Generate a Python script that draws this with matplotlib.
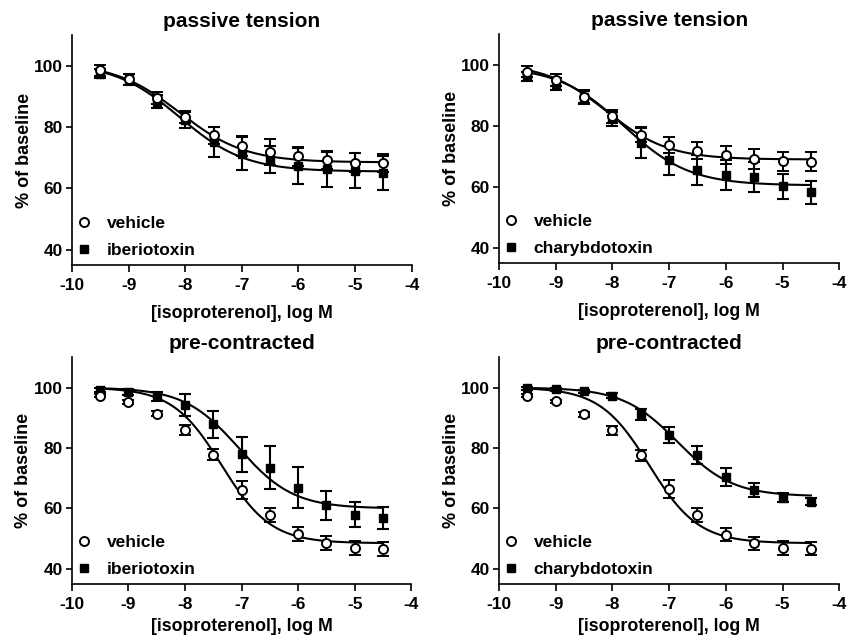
"""
Isoproterenol concentration-response, passive tension vs. pre-contracted,
vehicle vs. iberiotoxin / charybdotoxin (4 panels)
"""
import numpy as np
import matplotlib.pyplot as plt
from matplotlib.lines import Line2D

plt.rcParams.update({
    'font.family': ['Liberation Sans', 'DejaVu Sans'],
    'font.weight': 'bold',
    'font.size': 12,
    'axes.unicode_minus': False,
    'axes.linewidth': 1.2,
    'axes.labelweight': 'bold',
    'axes.titleweight': 'bold',
    'xtick.major.width': 1.2,
    'ytick.major.width': 1.2,
    'xtick.major.size': 5.0,
    'ytick.major.size': 4.5,
    'xtick.major.pad': 4.0,
    'ytick.major.pad': 2.0,
})

log_conc = [-9.5, -9, -8.5, -8, -7.5, -7, -6.5, -6, -5.5, -5, -4.5]

# passive tension, iberiotoxin experiment
pt_veh_a = [98.5, 95.6, 89.5, 83.4, 77.3, 73.8, 71.9, 70.4, 69.3, 68.4, 68.2]
pt_veh_a_sem = [1.8, 1.8, 2.0, 2.0, 2.8, 3.4, 4.2, 3.0, 3.0, 3.1, 3.0]
pt_ibtx = [97.4, 95.6, 88.3, 82.3, 75.1, 71.3, 69.3, 67.3, 66.2, 65.8, 65.0]
pt_ibtx_sem = [1.5, 1.8, 2.2, 2.5, 5.0, 5.3, 4.4, 5.8, 5.6, 5.6, 5.5]

# passive tension, charybdotoxin experiment
pt_veh_b = [97.8, 95.1, 89.6, 83.1, 77.1, 73.8, 71.9, 70.5, 69.1, 68.4, 68.3]
pt_veh_b_sem = [1.9, 2.0, 2.0, 2.0, 2.5, 2.7, 2.7, 3.0, 3.3, 3.2, 3.0]
pt_chtx = [96.2, 93.7, 89.3, 82.2, 74.4, 68.7, 65.6, 63.8, 63.2, 60.2, 58.2]
pt_chtx_sem = [1.5, 2.0, 2.0, 2.2, 4.9, 4.7, 4.9, 4.9, 4.9, 4.2, 3.9]

# pre-contracted, iberiotoxin experiment
pc_veh_a = [97.3, 95.3, 91.4, 85.9, 77.7, 66.2, 57.9, 51.5, 48.6, 46.9, 46.6]
pc_veh_a_sem = [0.6, 0.6, 0.8, 1.6, 1.8, 3.0, 2.4, 2.2, 2.2, 2.2, 2.2]
pc_ibtx = [99.1, 98.4, 97.1, 94.2, 87.8, 77.9, 73.5, 66.9, 61.0, 57.9, 56.8]
pc_ibtx_sem = [0.6, 1.0, 1.5, 3.5, 4.5, 5.8, 7.2, 6.7, 4.8, 4.2, 3.7]

# pre-contracted, charybdotoxin experiment
pc_veh_b = [97.3, 95.4, 91.2, 85.8, 77.6, 66.3, 57.8, 51.3, 48.5, 46.9, 46.7]
pc_veh_b_sem = [0.6, 0.6, 0.8, 1.6, 1.8, 3.0, 2.4, 2.2, 2.2, 2.2, 2.2]
pc_chtx = [99.8, 99.5, 98.7, 97.3, 91.2, 84.3, 77.8, 70.4, 66.1, 63.5, 62.2]
pc_chtx_sem = [0.5, 0.5, 0.6, 0.8, 1.8, 2.6, 3.0, 3.0, 2.2, 1.5, 1.2]

# sigmoidal fits: top, bottom, logEC50, hill slope
pt_veh_a_fit = [101.0, 68.5, -8.1, 0.75]
pt_ibtx_fit = [101.0, 65.5, -8.1, 0.75]
pt_veh_b_fit = [100.5, 69.0, -8.1, 0.8]
pt_chtx_fit = [99.5, 60.5, -7.8, 0.75]
pc_veh_a_fit = [100.0, 48.5, -7.35, 1.0]
pc_ibtx_fit = [100.0, 60.0, -7.05, 0.9]
pc_veh_b_fit = [100.0, 48.5, -7.35, 1.0]
pc_chtx_fit = [100.0, 64.0, -6.85, 0.9]


def logistic(x, top, bottom, logec50, hill):
    return bottom + (top - bottom) / (1 + 10 ** ((x - logec50) * hill))


def draw_panel(ax, title, drug, veh, veh_sem, veh_fit, trt, trt_sem, trt_fit, xpad):
    xs = np.linspace(log_conc[0], log_conc[-1], 300)
    ax.plot(xs, logistic(xs, *veh_fit), color='black', lw=1.5, zorder=2)
    ax.plot(xs, logistic(xs, *trt_fit), color='black', lw=1.5, zorder=2)
    ax.errorbar(log_conc, trt, yerr=trt_sem, fmt='s', ms=6, color='black',
                ecolor='black', elinewidth=1.5, capsize=4.5, capthick=1.5, zorder=3)
    ax.errorbar(log_conc, veh, yerr=veh_sem, fmt='o', ms=6.5, mfc='white',
                mec='black', mew=1.4, ecolor='black', elinewidth=1.5,
                capsize=4.5, capthick=1.5, zorder=4)

    ax.set_xlim(-10, -4)
    ax.set_ylim(35, 110)
    ax.set_xticks(range(-10, -3))
    ax.set_yticks([40, 60, 80, 100])
    ax.spines['top'].set_visible(False)
    ax.spines['right'].set_visible(False)
    ax.tick_params(labelsize=12.5)
    ax.set_title(title, fontsize=15, pad=6)
    ax.set_xlabel('[isoproterenol], log M', fontsize=12.8, labelpad=xpad)
    ax.set_ylabel('% of baseline', fontsize=13, labelpad=1)

    handles = [
        Line2D([], [], ls='none', marker='o', ms=6.5, mfc='white', mec='black', mew=1.4),
        Line2D([], [], ls='none', marker='s', ms=6, color='black'),
    ]
    ax.legend(handles, ['vehicle', drug], loc='lower left', frameon=False,
              fontsize=12.5, handlelength=0.6, handletextpad=1.0,
              labelspacing=0.7, borderaxespad=0.0, borderpad=0.4,
              bbox_to_anchor=(0.0, 0.0))


fig = plt.figure(figsize=(8.6, 6.38), dpi=100)
ax_tl = fig.add_axes([0.0837, 0.5846, 0.395, 0.3604])
ax_tr = fig.add_axes([0.5802, 0.5873, 0.3957, 0.359])
ax_bl = fig.add_axes([0.0834, 0.0846, 0.395, 0.3554])
ax_br = fig.add_axes([0.5802, 0.0846, 0.3957, 0.3554])

draw_panel(ax_tl, 'passive tension', 'iberiotoxin',
           pt_veh_a, pt_veh_a_sem, pt_veh_a_fit, pt_ibtx, pt_ibtx_sem, pt_ibtx_fit, 9)
draw_panel(ax_tr, 'passive tension', 'charybdotoxin',
           pt_veh_b, pt_veh_b_sem, pt_veh_b_fit, pt_chtx, pt_chtx_sem, pt_chtx_fit, 9)
draw_panel(ax_bl, 'pre-contracted', 'iberiotoxin',
           pc_veh_a, pc_veh_a_sem, pc_veh_a_fit, pc_ibtx, pc_ibtx_sem, pc_ibtx_fit, 5)
draw_panel(ax_br, 'pre-contracted', 'charybdotoxin',
           pc_veh_b, pc_veh_b_sem, pc_veh_b_fit, pc_chtx, pc_chtx_sem, pc_chtx_fit, 5)

fig.savefig('out.png', dpi=100, facecolor='white')
